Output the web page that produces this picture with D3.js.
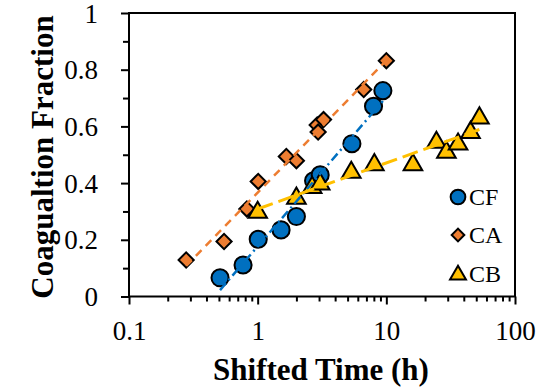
<!DOCTYPE html>
<html>
<head>
<meta charset="utf-8">
<script src="https://cdn.jsdelivr.net/npm/d3@7"></script>
<style>
  body { margin: 0; background: #fff; }
</style>
</head>
<body>
<div id="viz"></div>
<script>
// Datos (tiempo desplazado en h, fracción de coagulación)
let cfTiempo = [0.51, 0.77, 1.01, 1.52, 2.0, 2.72, 3.06, 5.4, 7.95, 9.4];
let cfFraccion = [0.066, 0.111, 0.202, 0.235, 0.282, 0.408, 0.429, 0.539, 0.671, 0.726];

let caTiempo = [0.278, 0.548, 0.824, 1.01, 1.67, 2.0, 2.9, 3.25, 2.95, 6.67, 10.0];
let caFraccion = [0.129, 0.194, 0.309, 0.406, 0.494, 0.479, 0.605, 0.624, 0.58, 0.730, 0.832];

let cbTiempo = [1.0, 2.0, 2.65, 3.06, 5.34, 8.07, 16.1, 24.5, 29.3, 36.1, 45.1, 52.9];
let cbFraccion = [0.30, 0.35, 0.388, 0.40, 0.441, 0.468, 0.468, 0.547, 0.512, 0.541, 0.582, 0.633];

let ticksX = [0.1, 1, 10, 100];
let etiquetasX = ['0.1', '1', '10', '100'];
let ticksY = [0, 0.2, 0.4, 0.6, 0.8, 1];
let etiquetasY = ['0', '0.2', '0.4', '0.6', '0.8', '1'];

let series = [
    {nombre: 'CF', x: cfTiempo, y: cfFraccion, color: '#0070C0', forma: 'circulo', dash: '9,4,2,4', ancho: 2.5},
    {nombre: 'CA', x: caTiempo, y: caFraccion, color: '#ED7D31', forma: 'rombo', dash: '8,6', ancho: 2.5},
    {nombre: 'CB', x: cbTiempo, y: cbFraccion, color: '#FFC000', forma: 'triangulo', dash: '16,6', ancho: 3}
];

let fuente = 'Liberation Serif';

let w = 560;
let h = 387;
let izq = 129, der = 515, arriba = 13, abajo = 296.5;

let svg = d3.select('#viz')
    .append('svg')
        .attr('width', w)
        .attr('height', h);

let x = d3.scaleLog().domain([0.1, 100]).range([izq, der]);
let y = d3.scaleLinear().domain([0, 1]).range([abajo, arriba]);

// Ticks menores del eje X (2..9 en cada década)
let menoresX = [];
[0.1, 1, 10].forEach(function(d) {
    for (let k = 2; k <= 9; k++) menoresX.push(d * k);
});
let menoresY = [0.1, 0.3, 0.5, 0.7, 0.9];

svg.append('g')
    .attr('transform', `translate(0,${abajo})`)
    .call(d3.axisBottom(x).tickValues(menoresX).tickSize(5).tickFormat(''))
    .call(g => g.select('.domain').remove())
    .selectAll('line').attr('stroke', '#000').attr('stroke-width', 2);

svg.append('g')
    .attr('transform', `translate(0,${abajo})`)
    .call(d3.axisBottom(x).tickValues(ticksX).tickSize(8).tickFormat((d, i) => etiquetasX[i]))
    .attr('font-family', fuente)
    .attr('font-size', 27)
    .call(g => g.select('.domain').remove())
    .call(g => g.selectAll('line').attr('stroke', '#000').attr('stroke-width', 2))
    .call(g => g.selectAll('text')
        .attr('y', 0).attr('dy', null).attr('transform', 'translate(0,43.5)'));

svg.append('g')
    .attr('transform', `translate(${izq},0)`)
    .call(d3.axisLeft(y).tickValues(menoresY).tickSize(6).tickFormat(''))
    .call(g => g.select('.domain').remove())
    .selectAll('line').attr('stroke', '#000').attr('stroke-width', 2);

svg.append('g')
    .attr('transform', `translate(${izq},0)`)
    .call(d3.axisLeft(y).tickValues(ticksY).tickSize(8).tickFormat((d, i) => etiquetasY[i]))
    .attr('font-family', fuente)
    .attr('font-size', 27)
    .call(g => g.select('.domain').remove())
    .call(g => g.selectAll('line').attr('stroke', '#000').attr('stroke-width', 2))
    .call(g => g.selectAll('text')
        .attr('x', -31).attr('dy', '0.34em'));

// Marco del área de gráfico
svg.append('rect')
    .attr('x', izq).attr('y', arriba)
    .attr('width', der - izq).attr('height', abajo - arriba)
    .attr('fill', 'none').attr('stroke', '#000').attr('stroke-width', 2);

function simbolo(forma, tam) {
    let tipo = forma == 'circulo' ? d3.symbolCircle : (forma == 'rombo' ? d3.symbolSquare : d3.symbolTriangle);
    return d3.symbol().type(tipo).size(tam)();
}
let tamanos = {circulo: 230, rombo: 115, triangulo: 150};
let tamanosLeyenda = {circulo: 170, rombo: 80, triangulo: 110};

function rotacion(forma) { return forma == 'rombo' ? ' rotate(45)' : ''; }

// Marcadores
series.forEach(function(s) {
    let puntos = s.x.map((v, i) => ({t: v, f: s.y[i]}));
    svg.append('g').selectAll('path')
        .data(puntos)
        .enter().append('path')
            .attr('d', simbolo(s.forma, tamanos[s.forma]))
            .attr('transform', d => `translate(${x(d.t)},${y(d.f) + (s.forma == 'triangulo' ? 1 : 0)})` + rotacion(s.forma))
            .attr('fill', s.color)
            .attr('stroke', '#000')
            .attr('stroke-width', 2);
});

// Líneas de tendencia logarítmicas (mínimos cuadrados, y = a ln(x) + b)
series.forEach(function(s) {
    let lx = s.x.map(v => Math.log(v));
    let mx = d3.mean(lx), my = d3.mean(s.y);
    let num = d3.sum(lx, (v, i) => (v - mx) * (s.y[i] - my));
    let den = d3.sum(lx, v => (v - mx) * (v - mx));
    let a = num / den, b = my - a * mx;
    let extremos = d3.extent(s.x);
    let linea = d3.line().x(d => x(d)).y(d => y(a * Math.log(d) + b));
    svg.append('path')
        .datum(extremos)
        .attr('d', linea)
        .attr('fill', 'none')
        .attr('stroke', s.color)
        .attr('stroke-width', s.ancho)
        .attr('stroke-dasharray', s.dash);
});

// Leyenda
let yLeyenda = [197, 235, 274];
series.forEach(function(s, i) {
    svg.append('path')
        .attr('d', simbolo(s.forma, tamanosLeyenda[s.forma]))
        .attr('transform', `translate(458,${yLeyenda[i] + (s.forma == 'triangulo' ? 1 : 0)})` + rotacion(s.forma))
        .attr('fill', s.color)
        .attr('stroke', '#000')
        .attr('stroke-width', 2);
    svg.append('text')
        .attr('x', 469)
        .attr('y', yLeyenda[i] + 8)
        .attr('font-family', fuente)
        .attr('font-size', 24)
        .text(s.nombre);
});

// Títulos de ejes
svg.append('text')
    .attr('x', 321)
    .attr('y', 380)
    .attr('text-anchor', 'middle')
    .attr('font-family', fuente)
    .attr('font-size', 31)
    .attr('font-weight', 'bold')
    .text('Shifted Time (h)');

svg.append('text')
    .attr('transform', 'translate(53,157) rotate(-90)')
    .attr('text-anchor', 'middle')
    .attr('font-family', fuente)
    .attr('font-size', 31)
    .attr('font-weight', 'bold')
    .text('Coagualtion Fraction');
</script>
</body>
</html>
